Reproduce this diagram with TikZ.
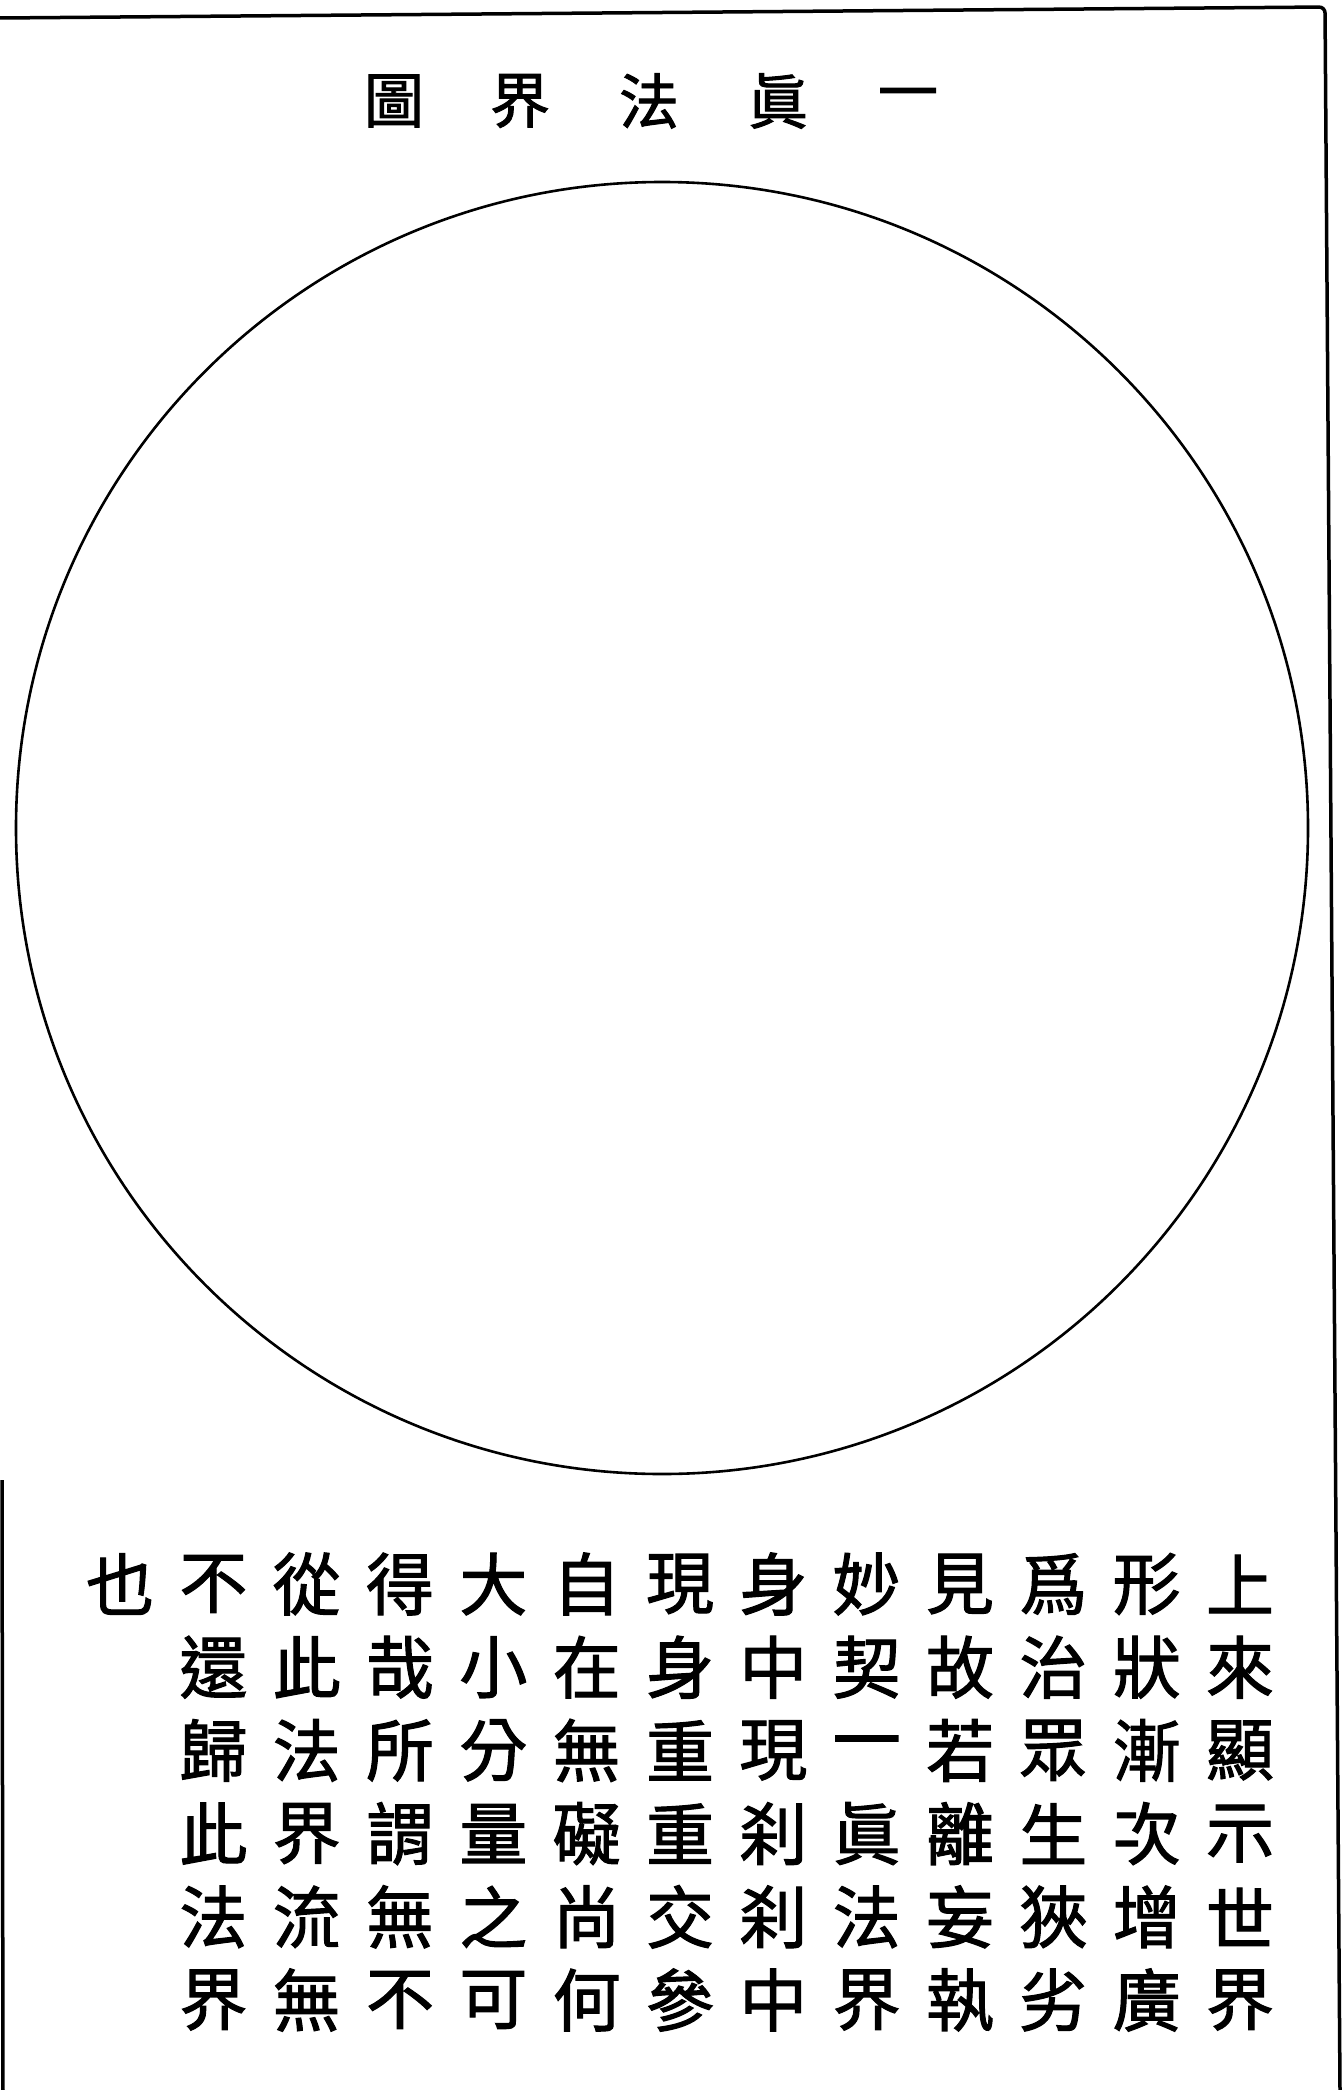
\documentclass[tikz,border=0pt]{standalone}
\usepackage{fontspec}
\newfontfamily\cjk[FakeBold=1.6]{Noto Sans CJK TC}
\tikzset{
  border/.style={line width=3.5pt, black},
  ring/.style={line width=2.6pt, black},
  titlechar/.style={inner sep=0pt, font=\cjk\fontsize{60}{60}\selectfont},
  bodychar/.style={inner sep=0pt, font=\cjk\fontsize{68}{68}\selectfont},
}
\begin{document}
\begin{tikzpicture}[x=1pt,y=-1pt]
\useasboundingbox (0,0) rectangle (1341,2090);
\fill[white] (0,0) rectangle (1341,2090);
% page frame
\coordinate (tl) at (0,18);
\coordinate (tr) at (1325,7);
\coordinate (br) at (1340,2090);
\draw[border, rounded corners=6pt] (tl) -- (tr) -- (br);
\coordinate (lt) at (2,1480);
\coordinate (lb) at (3,2090);
\draw[border] (lt) -- (lb);
% title
\node[titlechar] (t1) at (908,101) {一};
\node[titlechar] (t2) at (778,101) {眞};
\node[titlechar] (t3) at (649,101) {法};
\node[titlechar] (t4) at (520,101) {界};
\node[titlechar] (t5) at (394,101) {圖};
% circle
\node[ring, draw, circle, minimum size=1292pt, inner sep=0pt] (circ) at (662,828) {};
% text columns, right to left
\foreach \col [count=\k from 0] in {
  {上,來,顯,示,世,界},
  {形,狀,漸,次,增,廣},
  {爲,治,眾,生,狹,劣},
  {見,故,若,離,妄,執},
  {妙,契,一,眞,法,界},
  {身,中,現,刹,刹,中},
  {現,身,重,重,交,參},
  {自,在,無,礙,尚,何},
  {大,小,分,量,之,可},
  {得,哉,所,謂,無,不},
  {從,此,法,界,流,無},
  {不,還,歸,此,法,界},
  {也}}{
  \foreach \ch [count=\r from 0] in \col {
    \node[bodychar] (c\k r\r) at ({1240-93.33*\k},{1584+83.2*\r}) {\ch};
  }
}
\end{tikzpicture}
\end{document}
